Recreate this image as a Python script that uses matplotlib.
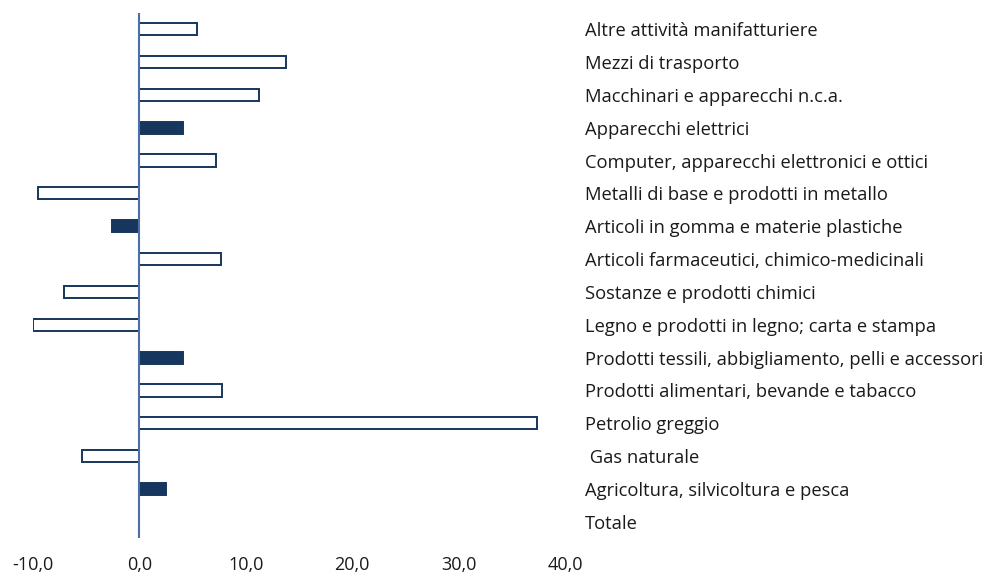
import numpy as np
import matplotlib.pyplot as plt
from matplotlib.ticker import FuncFormatter

categories = [
    "Altre attività manifatturiere",
    "Mezzi di trasporto",
    "Macchinari e apparecchi n.c.a.",
    "Apparecchi elettrici",
    "Computer, apparecchi elettronici e ottici",
    "Metalli di base e prodotti in metallo",
    "Articoli in gomma e materie plastiche",
    "Articoli farmaceutici, chimico-medicinali",
    "Sostanze e prodotti chimici",
    "Legno e prodotti in legno; carta e stampa",
    "Prodotti tessili, abbigliamento, pelli e accessori",
    "Prodotti alimentari, bevande e tabacco",
    "Petrolio greggio",
    " Gas naturale",
    "Agricoltura, silvicoltura e pesca",
    "Totale",
]
values = [5.4, 13.8, 11.2, 4.1, 7.2, -9.5, -2.6, 7.7, -7.1, -10.0, 4.1, 7.8, 37.4, -5.4, 2.5, 0.0]
filled = [False, False, False, True, False, False, True, False, False, False, True, False, False, False, True, False]

navy = "#17365d"
W, H = 994, 576
fig = plt.figure(figsize=(W / 100, H / 100), dpi=100)
ax = fig.add_axes([33 / W, 1 - 538 / H, (565 - 33) / W, (538 - 13) / H])

y = np.arange(len(categories))
colors = [navy if f else "white" for f in filled]
ax.barh(y, values, height=0.37, color=colors, edgecolor=navy, linewidth=1.4, zorder=2)
ax.axvline(0, color="#4a6fa5", lw=1.5, zorder=3)

ax.set_xlim(-10, 40)
ax.set_ylim(len(categories) - 0.51, -0.49)
ax.set_xticks(range(-10, 41, 10))
ax.xaxis.set_major_formatter(FuncFormatter(lambda v, p: f"{v:.1f}".replace(".", ",")))
ax.set_yticks(y)
ax.set_yticklabels(categories)
ax.yaxis.tick_right()
ax.tick_params(axis="y", length=0, pad=14.4, labelsize=13.2, labelcolor="#1a1a1a")
ax.tick_params(axis="x", length=0, pad=13, labelsize=13, labelcolor="#1a1a1a")
for lab in ax.get_yticklabels() + ax.get_xticklabels():
    lab.set_family("Open Sans")
for s in ax.spines.values():
    s.set_visible(False)

fig.savefig("out.png", dpi=100)
